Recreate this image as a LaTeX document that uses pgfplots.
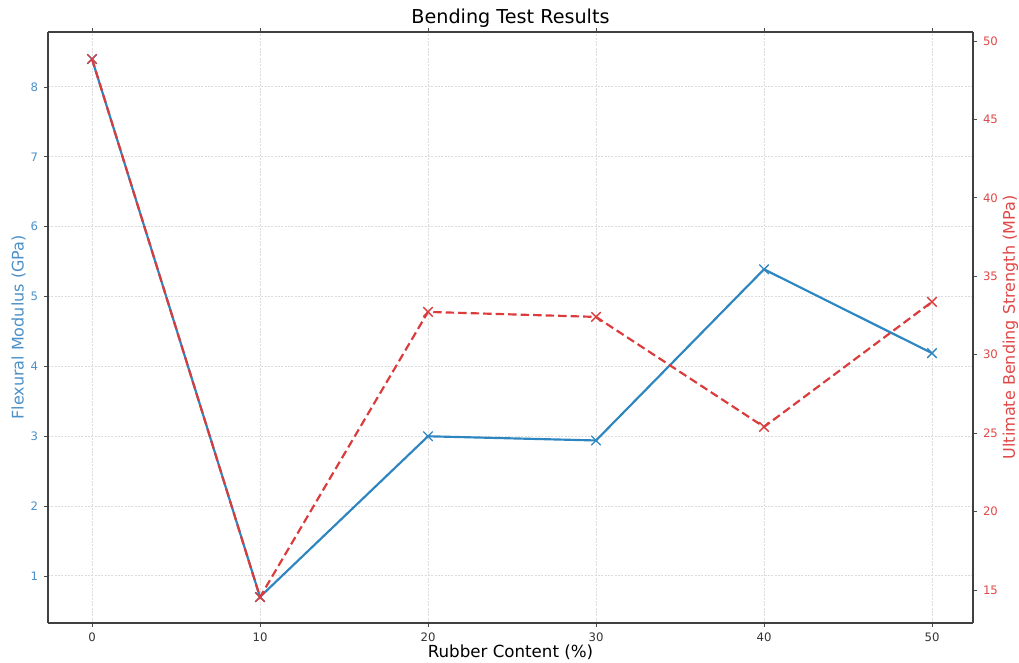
\documentclass[border=0pt]{standalone}
\usepackage{pgfplots}
\pgfplotsset{compat=1.18}
\usepackage{fontspec}
\setmainfont{DejaVu Sans}
\definecolor{tblue}{HTML}{2E86C1}
\definecolor{tred}{HTML}{DB3B3B}
\definecolor{tbluet}{HTML}{4A90C8}
\definecolor{tredt}{HTML}{E04848}
\begin{document}
\begin{tikzpicture}
\useasboundingbox (0,0) rectangle (611.4pt,397.2pt);
\begin{axis}[
  at={(28.8pt,23.4pt)}, anchor=south west,
  scale only axis, width=555pt, height=354.6pt,
  xmin=-2.62, xmax=52.44, ymin=0.327, ymax=8.787,
  axis y line*=left,
  xtick={0,10,20,30,40,50},
  ytick={1,2,3,4,5,6,7,8},
  tick align=outside, major tick length=2.5pt,
  tick style={black!70, line width=0.5pt},
  axis line style={black!75, line width=0.8pt},
  grid=major,
  grid style={gray!28, line width=0.6pt, dash pattern=on 1.2pt off 0.8pt},
  /pgf/number format/assume math mode=true,
  xticklabel style={font=\fontsize{7}{8}\selectfont, text=black!80},
  yticklabel style={font=\fontsize{7}{8}\selectfont, text=tbluet},
  xlabel={Rubber Content (\%)},
  xlabel style={font=\fontsize{10}{11}\selectfont, yshift=5pt},
  ylabel={Flexural Modulus (GPa)},
  ylabel style={font=\fontsize{9.6}{10}\selectfont, text=tbluet, yshift=-4pt},
  title={Bending Test Results},
  title style={font=\fontsize{11.5}{12}\selectfont, yshift=-7pt},
  clip=false,
]
\addplot[color=tblue, line width=1.3pt, mark=x, mark size=4pt, mark options={line width=0.8pt}]
  coordinates {(0,8.4) (10,0.70) (20,3.00) (30,2.94) (40,5.39) (50,4.19)};
\end{axis}
\begin{axis}[
  at={(28.8pt,23.4pt)}, anchor=south west,
  scale only axis, width=555pt, height=354.6pt,
  xmin=-2.62, xmax=52.44, ymin=12.9, ymax=50.57,
  axis y line*=right, axis x line=none,
  ytick={15,20,25,30,35,40,45,50},
  tick align=outside, major tick length=2.5pt,
  tick style={black!70, line width=0.5pt},
  axis line style={black!75, line width=0.8pt},
  /pgf/number format/assume math mode=true,
  yticklabel style={font=\fontsize{7}{8}\selectfont, text=tredt},
  ylabel={Ultimate Bending Strength (MPa)},
  ylabel style={font=\fontsize{9.6}{10}\selectfont, text=tredt, yshift=4pt},
  clip=false,
]
\addplot[color=tred, line width=1.3pt, dash pattern=on 5pt off 2.5pt, mark=x, mark size=4pt, mark options={line width=0.8pt, solid}]
  coordinates {(0,48.85) (10,14.55) (20,32.73) (30,32.41) (40,25.4) (50,33.37)};
\end{axis}
\end{tikzpicture}
\end{document}
